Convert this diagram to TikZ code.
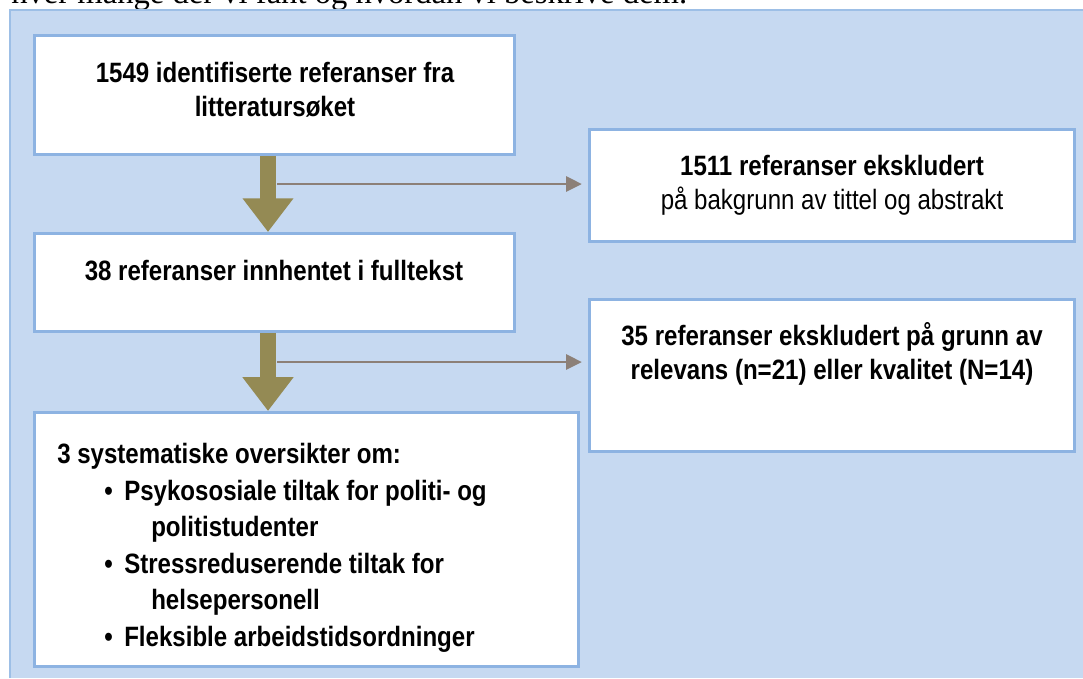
\documentclass[tikz,border=0pt]{standalone}
\usepackage{fontspec}
\setmainfont{Liberation Serif}
\newfontfamily\boxfont[FakeStretch=0.86]{Liberation Sans}
\usetikzlibrary{arrows.meta}
\definecolor{panel}{HTML}{C6D9F1}
\definecolor{frame}{HTML}{8DB3E2}
\definecolor{edge}{HTML}{9DBFE6}
\definecolor{olive}{HTML}{948A54}
\definecolor{taupe}{HTML}{8C8078}

\begin{document}
\begin{tikzpicture}[
    x=0.025cm, y=-0.025cm,
    font=\boxfont\bfseries\fontsize{19.9}{24.2}\selectfont,
    box/.style={draw=frame, fill=white, line width=2.1pt, rectangle, inner sep=0pt},
    boxtext/.style={align=center, inner sep=0pt},
    listline/.style={anchor=base west, inner sep=0pt},
    bigarrow/.style={draw=olive, line width=12pt,
        -{Triangle[width=34.7pt, length=24pt]}},
    sidearrow/.style={draw=taupe, line width=2.1pt, shorten >=4.3pt,
        -{Triangle[width=10.6pt, length=11.3pt]}}
]
\useasboundingbox (0,0) rectangle (1083,678);
\node[anchor=base west, inner sep=0pt, font=\rmfamily\fontsize{23.2}{26}\selectfont]
    (intro) at (11,3.5) {hver mange der vi fant og hvordan vi beskrive dem.};

% background panel
\fill[panel] (10,10) rectangle (1083,678);
\draw[edge, line width=1pt] (10,678) -- (10,10) -- (1083,10);

% boxes
\node[box, minimum width=12.0cm, minimum height=2.975cm] (b1) at (274.5,95) {};
\node[box, minimum width=12.0cm, minimum height=2.45cm] (b2) at (274.5,282.5) {};
\node[box, minimum width=13.6cm, minimum height=6.35cm] (b3) at (306.5,539.5) {};
\node[box, minimum width=12.125cm, minimum height=2.8cm] (b4) at (832,185.5) {};
\node[box, minimum width=12.125cm, minimum height=3.8cm] (b5) at (832,375.5) {};

\node[boxtext] (t1) at (275,90) {1549 identifiserte referanser fra\\litteratursøket};
\node[boxtext] (t2) at (274,271) {38 referanser innhentet i fulltekst};
\node[boxtext] (t4) at (832,185) {1511 referanser ekskludert\\\mdseries på bakgrunn av tittel og abstrakt};
\node[boxtext] (t5) at (832,354) {35 referanser ekskludert på grunn av\\relevans (n=21) eller kvalitet (N=14)};

% list in the last box
\node[listline] (t3) at (57,463) {3 systematiske oversikter om:};
\foreach \y/\txt in {500/Psykososiale tiltak for politi- og,
                     573/Stressreduserende tiltak for,
                     646/Fleksible arbeidstidsordninger} {
    \node[listline] (dot\y) at (104,\y) {\textbullet};
    \node[listline] (item\y) at (124,\y) {\txt};
}
\node[listline] (cont1) at (151,536) {politistudenter};
\node[listline] (cont2) at (151,609) {helsepersonell};

% arrows
\coordinate (s1) at (268,0);
\coordinate (g1) at (277,184);
\coordinate (g2) at (277,362);
\draw[sidearrow] (g1) -- (g1 -| b4.west);
\draw[sidearrow] (g2) -- (g2 -| b5.west);
\draw[bigarrow] (b1.south -| s1) -- (b2.north -| s1);
\draw[bigarrow] (b2.south -| s1) -- (b3.north -| s1);
\end{tikzpicture}
\end{document}
